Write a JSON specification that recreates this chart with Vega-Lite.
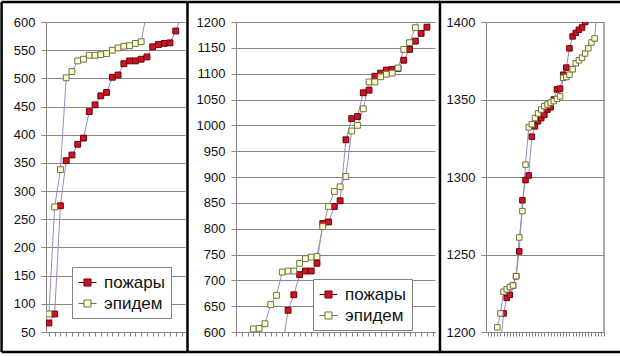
{
  "$schema": "https://vega.github.io/schema/vega-lite/v6.json",
  "padding": 0,
  "background": "white",
  "bounds": "flush",
  "spacing": 51,
  "config": {
    "view": {"stroke": null},
    "font": "Liberation Sans",
    "axisY": {"gridColor": "#858585", "gridOpacity": 1, "domainColor": "#858585", "tickColor": "#858585", "tickSize": 5, "labelPadding": 6, "labelFont": "Liberation Sans", "labelFontSize": 13, "labelColor": "#111", "title": null, "format": "d", "labelOverlap": false, "labelFlush": false},
    "axisX": {"labels": false, "grid": false, "ticks": true, "tickSize": 4, "domainColor": "#858585", "tickColor": "#858585", "title": null},
    "legend": {"fillColor": "white", "strokeColor": "#808080", "padding": 6, "labelFont": "Liberation Sans", "labelFontSize": 17, "labelColor": "#111", "symbolStrokeWidth": 1, "rowPadding": 3, "labelOffset": 7, "title": null,
      "symbolType": "M-1,0H-0.39M0.39,0H1M-0.39,-0.39H0.39V0.39H-0.39Z", "symbolSize": 324}
  },
  "datasets": {
    "one": [{}],
    "p1": [
      {"s": "пожары", "i": 0, "v": 66}, {"s": "пожары", "i": 1, "v": 82}, {"s": "пожары", "i": 2, "v": 274}, {"s": "пожары", "i": 3, "v": 354},
      {"s": "пожары", "i": 4, "v": 364}, {"s": "пожары", "i": 5, "v": 383}, {"s": "пожары", "i": 6, "v": 394}, {"s": "пожары", "i": 7, "v": 441},
      {"s": "пожары", "i": 8, "v": 453}, {"s": "пожары", "i": 9, "v": 469}, {"s": "пожары", "i": 10, "v": 475}, {"s": "пожары", "i": 11, "v": 502},
      {"s": "пожары", "i": 12, "v": 506}, {"s": "пожары", "i": 13, "v": 526}, {"s": "пожары", "i": 14, "v": 531}, {"s": "пожары", "i": 15, "v": 531},
      {"s": "пожары", "i": 16, "v": 534}, {"s": "пожары", "i": 17, "v": 538}, {"s": "пожары", "i": 18, "v": 556}, {"s": "пожары", "i": 19, "v": 560},
      {"s": "пожары", "i": 20, "v": 562}, {"s": "пожары", "i": 21, "v": 563}, {"s": "пожары", "i": 22, "v": 584}, {"s": "пожары", "i": 23, "v": 612},
      {"s": "эпидем", "i": 0, "v": 82}, {"s": "эпидем", "i": 1, "v": 272}, {"s": "эпидем", "i": 2, "v": 338}, {"s": "эпидем", "i": 3, "v": 501},
      {"s": "эпидем", "i": 4, "v": 512}, {"s": "эпидем", "i": 5, "v": 531}, {"s": "эпидем", "i": 6, "v": 534}, {"s": "эпидем", "i": 7, "v": 541},
      {"s": "эпидем", "i": 8, "v": 541}, {"s": "эпидем", "i": 9, "v": 542}, {"s": "эпидем", "i": 10, "v": 544}, {"s": "эпидем", "i": 11, "v": 550},
      {"s": "эпидем", "i": 12, "v": 554}, {"s": "эпидем", "i": 13, "v": 557}, {"s": "эпидем", "i": 14, "v": 558}, {"s": "эпидем", "i": 15, "v": 562},
      {"s": "эпидем", "i": 16, "v": 565}, {"s": "эпидем", "i": 17, "v": 620}
    ],
    "p2": [
      {"s": "пожары", "i": 8, "v": 568}, {"s": "пожары", "i": 9, "v": 642}, {"s": "пожары", "i": 10, "v": 672}, {"s": "пожары", "i": 11, "v": 711},
      {"s": "пожары", "i": 12, "v": 718}, {"s": "пожары", "i": 13, "v": 718}, {"s": "пожары", "i": 14, "v": 733}, {"s": "пожары", "i": 15, "v": 810},
      {"s": "пожары", "i": 16, "v": 813}, {"s": "пожары", "i": 17, "v": 843}, {"s": "пожары", "i": 18, "v": 854}, {"s": "пожары", "i": 19, "v": 972},
      {"s": "пожары", "i": 20, "v": 1013}, {"s": "пожары", "i": 21, "v": 1017}, {"s": "пожары", "i": 22, "v": 1063}, {"s": "пожары", "i": 23, "v": 1068},
      {"s": "пожары", "i": 24, "v": 1095}, {"s": "пожары", "i": 25, "v": 1101}, {"s": "пожары", "i": 26, "v": 1107}, {"s": "пожары", "i": 27, "v": 1108},
      {"s": "пожары", "i": 28, "v": 1110}, {"s": "пожары", "i": 29, "v": 1126}, {"s": "пожары", "i": 30, "v": 1147}, {"s": "пожары", "i": 31, "v": 1163},
      {"s": "пожары", "i": 32, "v": 1178}, {"s": "пожары", "i": 33, "v": 1190}, {"s": "пожары", "i": 34, "v": 1208},
      {"s": "эпидем", "i": 3, "v": 606}, {"s": "эпидем", "i": 4, "v": 607}, {"s": "эпидем", "i": 5, "v": 616}, {"s": "эпидем", "i": 6, "v": 653},
      {"s": "эпидем", "i": 7, "v": 671}, {"s": "эпидем", "i": 8, "v": 716}, {"s": "эпидем", "i": 9, "v": 718}, {"s": "эпидем", "i": 10, "v": 718},
      {"s": "эпидем", "i": 11, "v": 733}, {"s": "эпидем", "i": 12, "v": 742}, {"s": "эпидем", "i": 13, "v": 745}, {"s": "эпидем", "i": 14, "v": 746},
      {"s": "эпидем", "i": 15, "v": 804}, {"s": "эпидем", "i": 16, "v": 843}, {"s": "эпидем", "i": 17, "v": 872}, {"s": "эпидем", "i": 18, "v": 881},
      {"s": "эпидем", "i": 19, "v": 901}, {"s": "эпидем", "i": 20, "v": 989}, {"s": "эпидем", "i": 21, "v": 1000}, {"s": "эпидем", "i": 22, "v": 1032},
      {"s": "эпидем", "i": 23, "v": 1084}, {"s": "эпидем", "i": 24, "v": 1084}, {"s": "эпидем", "i": 25, "v": 1094}, {"s": "эпидем", "i": 26, "v": 1099},
      {"s": "эпидем", "i": 27, "v": 1101}, {"s": "эпидем", "i": 28, "v": 1111}, {"s": "эпидем", "i": 29, "v": 1147}, {"s": "эпидем", "i": 30, "v": 1160},
      {"s": "эпидем", "i": 31, "v": 1189}, {"s": "эпидем", "i": 32, "v": 1215}
    ],
    "p3": [
      {"s": "пожары", "i": 4, "v": 1190}, {"s": "пожары", "i": 5, "v": 1212}, {"s": "пожары", "i": 6, "v": 1222}, {"s": "пожары", "i": 7, "v": 1224},
      {"s": "пожары", "i": 8, "v": 1230}, {"s": "пожары", "i": 9, "v": 1236}, {"s": "пожары", "i": 10, "v": 1252}, {"s": "пожары", "i": 11, "v": 1285},
      {"s": "пожары", "i": 12, "v": 1298}, {"s": "пожары", "i": 13, "v": 1301}, {"s": "пожары", "i": 14, "v": 1326}, {"s": "пожары", "i": 15, "v": 1332.7},
      {"s": "пожары", "i": 16, "v": 1336}, {"s": "пожары", "i": 17, "v": 1338}, {"s": "пожары", "i": 18, "v": 1340}, {"s": "пожары", "i": 19, "v": 1343.5},
      {"s": "пожары", "i": 20, "v": 1345}, {"s": "пожары", "i": 21, "v": 1350}, {"s": "пожары", "i": 22, "v": 1356.5}, {"s": "пожары", "i": 23, "v": 1357},
      {"s": "пожары", "i": 24, "v": 1366}, {"s": "пожары", "i": 25, "v": 1370.6}, {"s": "пожары", "i": 26, "v": 1383}, {"s": "пожары", "i": 27, "v": 1390.7},
      {"s": "пожары", "i": 28, "v": 1393}, {"s": "пожары", "i": 29, "v": 1395}, {"s": "пожары", "i": 30, "v": 1396.5}, {"s": "пожары", "i": 31, "v": 1400},
      {"s": "пожары", "i": 32, "v": 1412},
      {"s": "эпидем", "i": 3, "v": 1203}, {"s": "эпидем", "i": 4, "v": 1212}, {"s": "эпидем", "i": 5, "v": 1226}, {"s": "эпидем", "i": 6, "v": 1227.5},
      {"s": "эпидем", "i": 7, "v": 1229}, {"s": "эпидем", "i": 8, "v": 1230}, {"s": "эпидем", "i": 9, "v": 1236}, {"s": "эпидем", "i": 10, "v": 1261},
      {"s": "эпидем", "i": 11, "v": 1278}, {"s": "эпидем", "i": 12, "v": 1308}, {"s": "эпидем", "i": 13, "v": 1332}, {"s": "эпидем", "i": 14, "v": 1334},
      {"s": "эпидем", "i": 15, "v": 1338}, {"s": "эпидем", "i": 16, "v": 1341}, {"s": "эпидем", "i": 17, "v": 1343.5}, {"s": "эпидем", "i": 18, "v": 1345.7},
      {"s": "эпидем", "i": 19, "v": 1346.8}, {"s": "эпидем", "i": 20, "v": 1348}, {"s": "эпидем", "i": 21, "v": 1349}, {"s": "эпидем", "i": 22, "v": 1350.4},
      {"s": "эпидем", "i": 23, "v": 1352}, {"s": "эпидем", "i": 24, "v": 1364}, {"s": "эпидем", "i": 25, "v": 1364.5}, {"s": "эпидем", "i": 26, "v": 1366},
      {"s": "эпидем", "i": 27, "v": 1369.5}, {"s": "эпидем", "i": 28, "v": 1373.4}, {"s": "эпидем", "i": 29, "v": 1375.3}, {"s": "эпидем", "i": 30, "v": 1377},
      {"s": "эпидем", "i": 31, "v": 1379.7}, {"s": "эпидем", "i": 32, "v": 1383}, {"s": "эпидем", "i": 33, "v": 1386.8}, {"s": "эпидем", "i": 34, "v": 1389.4},
      {"s": "эпидем", "i": 35, "v": 1415}
    ]
  },
  "resolve": {"scale": {"x": "independent", "y": "independent", "fill": "independent", "stroke": "independent"}, "legend": {"fill": "independent", "stroke": "independent"}},
  "hconcat": [
    {
      "width": 139, "height": 310,
      "layer": [
        {"data": {"name": "p1"}, "mark": {"type": "line", "color": "#9f86c6", "strokeWidth": 1, "clip": true},
         "encoding": {"x": {"field": "i", "type": "quantitative", "scale": {"domain": [-0.5, 23.6], "nice": false, "zero": false}, "axis": {"tickCount": 24}},
                      "y": {"field": "v", "type": "quantitative", "scale": {"domain": [50, 600], "nice": false, "zero": false}, "axis": {"values": [50,100,150,200,250,300,350,400,450,500,550,600], "tickCount": 20}},
                      "detail": {"field": "s"}}},
        {"data": {"name": "p1"}, "mark": {"type": "point", "shape": "square", "filled": true, "size": 34, "strokeWidth": 1, "opacity": 1, "clip": true},
         "encoding": {"x": {"field": "i", "type": "quantitative", "axis": {"tickCount": 24}},
                      "y": {"field": "v", "type": "quantitative", "axis": {"values": [50,100,150,200,250,300,350,400,450,500,550,600], "tickCount": 20}},
                      "fill": {"field": "s", "type": "nominal", "scale": {"domain": ["пожары", "эпидем"], "range": ["#cc1426", "#ffffcc"]}, "legend": {"orient": "none", "legendX": 26, "legendY": 245}},
                      "stroke": {"field": "s", "type": "nominal", "scale": {"domain": ["пожары", "эпидем"], "range": ["#6b0000", "#6e6e50"]}}}},
        {"data": {"name": "one"}, "mark": {"type": "rule", "color": "black", "strokeWidth": 2.5, "clip": false}, "encoding": {"x": {"datum": -8.2}, "y": {"datum": 14.5}, "y2": {"datum": 635.5}}},
        {"data": {"name": "one"}, "mark": {"type": "rule", "color": "black", "strokeWidth": 2.5, "clip": false}, "encoding": {"x": {"datum": 24.03}, "y": {"datum": 14.5}, "y2": {"datum": 635.5}}},
        {"data": {"name": "one"}, "mark": {"type": "rule", "color": "black", "strokeWidth": 2.5, "clip": false}, "encoding": {"y": {"datum": 635.5}, "x": {"datum": -8.2}, "x2": {"datum": 24.03}}},
        {"data": {"name": "one"}, "mark": {"type": "rule", "color": "black", "strokeWidth": 2.5, "clip": false}, "encoding": {"y": {"datum": 14.5}, "x": {"datum": -8.2}, "x2": {"datum": 24.03}}}
      ]
    },
    {
      "width": 199, "height": 310,
      "layer": [
        {"data": {"name": "p2"}, "mark": {"type": "line", "color": "#9f86c6", "strokeWidth": 1, "clip": true},
         "encoding": {"x": {"field": "i", "type": "quantitative", "scale": {"domain": [0, 34.4], "nice": false, "zero": false}, "axis": {"tickCount": 34}},
                      "y": {"field": "v", "type": "quantitative", "scale": {"domain": [600, 1200], "nice": false, "zero": false}, "axis": {"values": [600,650,700,750,800,850,900,950,1000,1050,1100,1150,1200], "tickCount": 20}},
                      "detail": {"field": "s"}}},
        {"data": {"name": "p2"}, "mark": {"type": "point", "shape": "square", "filled": true, "size": 34, "strokeWidth": 1, "opacity": 1, "clip": true},
         "encoding": {"x": {"field": "i", "type": "quantitative", "axis": {"tickCount": 34}},
                      "y": {"field": "v", "type": "quantitative", "axis": {"values": [600,650,700,750,800,850,900,950,1000,1050,1100,1150,1200], "tickCount": 20}},
                      "fill": {"field": "s", "type": "nominal", "scale": {"domain": ["пожары", "эпидем"], "range": ["#cc1426", "#ffffcc"]}, "legend": {"orient": "none", "legendX": 77, "legendY": 257}},
                      "stroke": {"field": "s", "type": "nominal", "scale": {"domain": ["пожары", "эпидем"], "range": ["#6b0000", "#6e6e50"]}}}},
        {"data": {"name": "one"}, "mark": {"type": "rule", "color": "black", "strokeWidth": 2.5, "clip": false}, "encoding": {"x": {"datum": 35.26}, "y": {"datum": 561.3}, "y2": {"datum": 1238.7}}},
        {"data": {"name": "one"}, "mark": {"type": "rule", "color": "black", "strokeWidth": 2.5, "clip": false}, "encoding": {"y": {"datum": 1238.7}, "x": {"datum": -8.38}, "x2": {"datum": 35.26}}},
        {"data": {"name": "one"}, "mark": {"type": "rule", "color": "black", "strokeWidth": 2.5, "clip": false}, "encoding": {"y": {"datum": 561.3}, "x": {"datum": -8.38}, "x2": {"datum": 35.26}}}
      ]
    },
    {
      "width": 118, "height": 310,
      "layer": [
        {"data": {"name": "p3"}, "mark": {"type": "line", "color": "#9f86c6", "strokeWidth": 1, "clip": true},
         "encoding": {"x": {"field": "i", "type": "quantitative", "scale": {"domain": [-0.6, 37], "nice": false, "zero": false}, "axis": {"tickCount": 38}},
                      "y": {"field": "v", "type": "quantitative", "scale": {"domain": [1200, 1400], "nice": false, "zero": false}, "axis": {"values": [1200,1250,1300,1350,1400], "tickCount": 20}},
                      "detail": {"field": "s"}}},
        {"data": {"name": "p3"}, "mark": {"type": "point", "shape": "square", "filled": true, "size": 30, "strokeWidth": 1, "opacity": 1, "clip": true},
         "encoding": {"x": {"field": "i", "type": "quantitative", "axis": {"tickCount": 38}},
                      "y": {"field": "v", "type": "quantitative", "axis": {"values": [1200,1250,1300,1350,1400], "tickCount": 20}},
                      "fill": {"field": "s", "type": "nominal", "scale": {"domain": ["пожары", "эпидем"], "range": ["#cc1426", "#ffffcc"]}, "legend": null},
                      "stroke": {"field": "s", "type": "nominal", "scale": {"domain": ["пожары", "эпидем"], "range": ["#6b0000", "#6e6e50"]}, "legend": null}}},
        {"data": {"name": "one"}, "mark": {"type": "rule", "color": "#909090", "strokeWidth": 1.5, "clip": false}, "encoding": {"x": {"datum": 37}, "y": {"datum": 1200}, "y2": {"datum": 1400}}},
        {"data": {"name": "one"}, "mark": {"type": "rule", "color": "black", "strokeWidth": 2.5, "clip": false}, "encoding": {"y": {"datum": 1412.9}, "x": {"datum": -15.58}, "x2": {"datum": 42.2}}},
        {"data": {"name": "one"}, "mark": {"type": "rule", "color": "black", "strokeWidth": 2.5, "clip": false}, "encoding": {"y": {"datum": 1187.1}, "x": {"datum": -15.58}, "x2": {"datum": 42.2}}}
      ]
    }
  ]
}
